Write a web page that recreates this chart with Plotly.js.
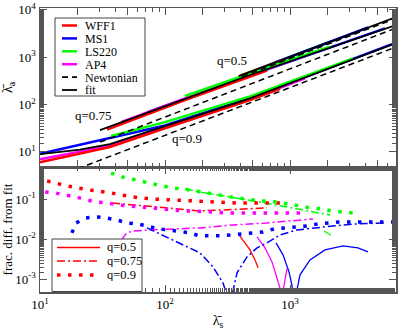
<!DOCTYPE html>
<html>
<head>
<meta charset="utf-8">
<script src="https://cdn.plot.ly/plotly-3.0.1.min.js"></script>
<style>body{margin:0;background:#fff}</style>
</head>
<body>
<div id="chart" style="width:398px;height:330px"></div>
<script>
// ---------- top panel: lambda_a vs lambda_s ----------
// fits
var fit05X = [390, 1000, 3000, 7050];
var fit05Y = [400, 1018, 3034, 7080];
var fit075X = [30.2, 153, 479, 7050];
var fit075Y = [28.9, 139, 421, 4797];
var fit09X = [10, 20.9, 36.3, 100, 479, 7050];
var fit09Y = [9.0, 11.2, 14.6, 35.1, 135, 1995];
// newtonian
var newt05X = [413, 7050];
var newt05Y = [388, 6630];
var newt075X = [30.2, 7050];
var newt075Y = [16.1, 4143];
var newt09X = [20, 7050];
var newt09Y = [4.4, 1642];
// EOS curves, q=0.5
var wff05X = [390, 555], wff05Y = [394, 560];
var ap405X = [545, 946], ap405Y = [550, 960];
var ms105X = [773, 4207], ms105Y = [790, 4240];
var ls05X = [400, 2128], ls05Y = [410, 2160];
// q=0.75
var wff075X = [34.4, 150, 655], wff075Y = [29.5, 129, 525];
var ap4075X = [45, 200, 1528], ap4075Y = [43, 184, 1240];
var ms1075X = [71.8, 328, 5754], ms1075Y = [68.4, 290, 4060];
var ls075X = [144.5, 631, 2089], ls075Y = [152, 584, 1670];
// q=0.9
var wff09X = [10, 36.3, 100, 479, 832], wff09Y = [6.0, 12.7, 31.6, 124, 215];
var ap409X = [10, 36.3, 100, 479, 1318], ap409Y = [7.0, 13.4, 33, 129, 358];
var ms109X = [10, 100, 479, 6546], ms109Y = [9.1, 36.2, 138, 1890];
var ls09X = [37, 100, 479, 3192], ls09Y = [21.6, 42.5, 149, 945];

// ---------- bottom panel: frac. diff. from fit ----------
// q=0.5 (solid)
var dWff05X = [391, 437, 479, 525, 555];
var dWff05Y = [0.0129, 0.00813, 0.00543, 0.00305, 0.00193];
var dAp405X = [545, 631, 718, 787, 832, 855, 879, 912, 946];
var dAp405Y = [0.0115, 0.0061, 0.00272, 0.00115, 0.0006, 0.0001, 0.0005, 0.00097, 0.00182];
var dMs105X = [773, 879, 982, 1037, 1086, 1138, 1202, 1445, 1905, 2655, 3499, 4207];
var dMs105Y = [0.00813, 0.00407, 0.00153, 0.0007, 0.0001, 0.00054, 0.00129, 0.00305, 0.00543, 0.00684, 0.0061, 0.00484];
var dLs05X = [1871, 2000, 2128];
var dLs05Y = [0.0162, 0.0143, 0.0126];
// q=0.75 (dash-dot)
var dWff075X = [37.7, 100, 190.5, 655];
var dWff075Y = [0.0813, 0.061, 0.0513, 0.061];
var dAp4075X = [45, 49.4, 55.5, 75.9, 190.5, 350, 655, 1202, 1528];
var dAp4075Y = [0.00966, 0.0145, 0.0162, 0.0172, 0.0193, 0.0229, 0.0257, 0.0305, 0.0324];
var dMs1075X = [71.8, 120, 190.5, 242, 291, 313, 328, 344, 377, 453, 545, 655, 832, 1138, 1528, 2208, 3436, 5754];
var dMs1075Y = [0.0193, 0.0092, 0.00457, 0.00204, 0.00081, 0.0004, 0.0001, 0.0004, 0.00145, 0.00363, 0.0061, 0.00813, 0.0129, 0.0172, 0.0193, 0.0216, 0.0243, 0.0257];
var dLs075X = [144.5, 190.5, 631, 2089];
var dLs075Y = [0.182, 0.153, 0.0813, 0.0407];
// q=0.9 (dotted)
var dWff09X = [11.4, 16.7, 24.7, 37, 54.5, 80.2, 116, 174, 251, 377, 545, 832];
var dWff09Y = [0.288, 0.216, 0.172, 0.145, 0.115, 0.102, 0.0966, 0.0912, 0.0861, 0.0813, 0.0813, 0.0813];
var dAp409X = [11, 13.2, 15.8, 19.4, 23.8, 28.6, 34.4, 42.1, 51.5, 63.1, 75.9, 94.6, 113.8, 139.3, 167.5, 208.9, 313, 461, 692, 1318];
var dAp409Y = [0.153, 0.145, 0.129, 0.115, 0.0966, 0.0861, 0.0813, 0.0724, 0.0684, 0.0646, 0.061, 0.0575, 0.0543, 0.0513, 0.0513, 0.0484, 0.0457, 0.0457, 0.0457, 0.0457];
var dMs109X = [18, 19.4, 23.3, 28.6, 33.7, 41.3, 49.7, 59.7, 71.8, 87.9, 105.7, 129.4, 158.5, 187, 225, 281, 344, 413, 506, 608, 745, 912, 1117, 1368, 1675, 2014, 2466, 3631, 6546];
var dMs109Y = [0.0145, 0.0257, 0.0343, 0.0363, 0.0343, 0.0305, 0.0257, 0.0243, 0.0216, 0.0182, 0.0172, 0.0162, 0.0145, 0.0122, 0.0122, 0.0122, 0.0129, 0.0136, 0.0145, 0.0153, 0.0182, 0.0193, 0.0204, 0.0216, 0.0243, 0.0257, 0.0272, 0.0272, 0.0272];
var dLs09X = [37, 45.3, 54.5, 66.7, 80.2, 96.4, 115.9, 141.9, 173.8, 205, 251, 308, 377, 461, 565, 692, 832, 1000, 1202, 1445, 1803, 2168, 2606, 3192];
var dLs09Y = [0.457, 0.363, 0.324, 0.272, 0.243, 0.216, 0.193, 0.182, 0.162, 0.153, 0.136, 0.122, 0.108, 0.102, 0.0912, 0.0912, 0.0813, 0.0767, 0.0684, 0.061, 0.0575, 0.0513, 0.0484, 0.0457];

var RED = '#ff0000', BLUE = '#0000ff', GREEN = '#00ff00', MAG = '#ff00ff';
var DASHDOT = '8px,3px,2px,3px';
var DOTS = '3.5px,7.5px';
var SERIF = "'Liberation Serif', 'Times New Roman', Times, serif";

function tr(x, y, color, width, dash, top) {
  return {
    x: x, y: y, type: 'scatter', mode: 'lines', showlegend: false, hoverinfo: 'skip',
    line: {color: color, width: width, dash: dash || 'solid'},
    xaxis: top ? 'x2' : 'x', yaxis: top ? 'y' : 'y2'
  };
}

var data = [
  // top: EOS curves
  tr(ls05X, ls05Y, GREEN, 2.5, null, true),
  tr(ms105X, ms105Y, BLUE, 2.5, null, true),
  tr(ap405X, ap405Y, MAG, 2.5, null, true),
  tr(wff05X, wff05Y, RED, 2.5, null, true),
  tr(ms1075X, ms1075Y, BLUE, 2.5, null, true),
  tr(ap4075X, ap4075Y, MAG, 2.5, null, true),
  tr(wff075X, wff075Y, RED, 2.5, null, true),
  tr(ls075X, ls075Y, GREEN, 2.5, null, true),
  tr(ms109X, ms109Y, BLUE, 2.5, null, true),
  tr(ap409X, ap409Y, MAG, 2.5, null, true),
  tr(wff09X, wff09Y, RED, 2.5, null, true),
  tr(ls09X, ls09Y, GREEN, 2.5, null, true),
  // top: newtonian + fits
  tr(newt05X, newt05Y, '#000', 1.5, '6px,4px', true),
  tr(newt075X, newt075Y, '#000', 1.5, '6px,4px', true),
  tr(newt09X, newt09Y, '#000', 1.5, '6px,4px', true),
  tr(fit05X, fit05Y, '#000', 1.8, null, true),
  tr(fit075X, fit075Y, '#000', 1.8, null, true),
  tr(fit09X, fit09Y, '#000', 1.8, null, true),
  // bottom: q=0.5
  tr(dWff05X, dWff05Y, RED, 1.3),
  tr(dAp405X, dAp405Y, MAG, 1.3),
  tr(dMs105X, dMs105Y, BLUE, 1.3),
  tr(dLs05X, dLs05Y, GREEN, 1.3),
  // bottom: q=0.75
  tr(dWff075X, dWff075Y, RED, 1.5, DASHDOT),
  tr(dAp4075X, dAp4075Y, MAG, 1.5, DASHDOT),
  tr(dMs1075X, dMs1075Y, BLUE, 1.5, DASHDOT),
  tr(dLs075X, dLs075Y, GREEN, 1.5, DASHDOT),
  // bottom: q=0.9
  tr(dWff09X, dWff09Y, RED, 3.5, DOTS),
  tr(dAp409X, dAp409Y, MAG, 3.5, DOTS),
  tr(dMs109X, dMs109Y, BLUE, 3.5, DOTS),
  tr(dLs09X, dLs09Y, GREEN, 3.5, DOTS)
];

// legends (drawn by hand so that row spacing matches)
var topLegNames = ['WFF1', 'MS1', 'LS220', 'AP4', 'Newtonian', 'fit'];
var topLegColors = [RED, BLUE, GREEN, MAG, '#000', '#000'];
var topLegDash = ['solid', 'solid', 'solid', 'solid', '6px,4px', 'solid'];
var topLegWidth = [2.5, 2.5, 2.5, 2.5, 1.8, 1.8];
var botLegNames = ['q=0.5', 'q=0.75', 'q=0.9'];
var botLegDash = ['solid', DASHDOT, DOTS];
var botLegWidth = [1.3, 1.5, 3.5];

// pixel -> paper helpers (plot area 40..396 x 8..292)
function px(v) { return (v - 40) / 356; }
function py(v) { return (292 - v) / 284; }

var shapes = [], annotations = [];
shapes.push({type: 'rect', xref: 'paper', yref: 'paper', x0: px(55), x1: px(145), y0: py(18), y1: py(96),
  line: {color: '#444', width: 1}, fillcolor: 'white', layer: 'above'});
topLegNames.forEach(function (n, i) {
  var yy = 25.5 + i * 12.9;
  shapes.push({type: 'line', xref: 'paper', yref: 'paper', x0: px(62), x1: px(77), y0: py(yy), y1: py(yy),
    line: {color: topLegColors[i], width: topLegWidth[i], dash: topLegDash[i]}, layer: 'above'});
  annotations.push({xref: 'paper', yref: 'paper', x: px(84), y: py(yy), text: n, showarrow: false,
    xanchor: 'left', yanchor: 'middle', height: 11, borderpad: 0, font: {size: 12}});
});
shapes.push({type: 'rect', xref: 'paper', yref: 'paper', x0: px(52), x1: px(142), y0: py(239), y1: py(291.5),
  line: {color: '#444', width: 1}, fillcolor: 'white', layer: 'above'});
botLegNames.forEach(function (n, i) {
  var yy = [247.5, 261, 275][i];
  shapes.push({type: 'line', xref: 'paper', yref: 'paper', x0: px(57), x1: px(100), y0: py(yy), y1: py(yy),
    line: {color: RED, width: botLegWidth[i], dash: botLegDash[i]}, layer: 'above'});
  annotations.push({xref: 'paper', yref: 'paper', x: px(106), y: py(yy), text: n, showarrow: false,
    xanchor: 'left', yanchor: 'middle', height: 12, borderpad: 0, font: {size: 12.5}});
});

// q labels in the top panel (log10 positions)
annotations.push({xref: 'x2', yref: 'y', x: 2.536, y: 2.94, text: 'q=0.5', showarrow: false, font: {size: 13}});
annotations.push({xref: 'x2', yref: 'y', x: 1.424, y: 1.778, text: 'q=0.75', showarrow: false, font: {size: 13}});
annotations.push({xref: 'x2', yref: 'y', x: 2.176, y: 1.292, text: 'q=0.9', showarrow: false, font: {size: 13}});

function sup(v) { return '10<sup>' + v + '</sup>'; }

var ax = {
  type: 'log', showline: true, linecolor: '#555', linewidth: 1.5, mirror: 'allticks',
  ticks: 'inside', ticklen: 7, tickwidth: 1, tickcolor: '#555',
  minor: {ticks: 'inside', ticklen: 4, tickwidth: 1, tickcolor: '#555', showgrid: false},
  showgrid: false, zeroline: false, tickfont: {size: 13, family: SERIF}
};
function mk(extra) { return Object.assign({}, ax, extra); }

var layout = {
  width: 398, height: 330,
  margin: {l: 40, r: 2, t: 8, b: 38},
  paper_bgcolor: 'white', plot_bgcolor: 'white',
  font: {family: SERIF, size: 13, color: '#000'},
  showlegend: false,
  xaxis: mk({range: [1, 3.848], anchor: 'y2', tickvals: [10, 100, 1000], ticktext: [sup(1), sup(2), sup(3)],
    title: {text: 'λ̄<sub>s</sub>', font: {size: 14, family: SERIF}, standoff: 4}}),
  xaxis2: mk({range: [1, 3.848], anchor: 'y', matches: 'x', showticklabels: false}),
  yaxis: mk({range: [0.68, 4.04], domain: [0.44, 1], anchor: 'x2',
    tickvals: [10, 100, 1000, 10000], ticktext: [sup(1), sup(2), sup(3), sup(4)],
    title: {text: 'λ̄<sub>a</sub>', font: {size: 14, family: SERIF}, standoff: 2}}),
  yaxis2: mk({range: [-3.32, -0.19], domain: [0, 0.44], anchor: 'x',
    tickvals: [0.001, 0.01, 0.1], ticktext: [sup('-3'), sup('-2'), sup('-1')],
    title: {text: 'frac. diff. from fit', font: {size: 13, family: SERIF}, standoff: 2}}),
  shapes: shapes,
  annotations: annotations
};

Plotly.newPlot('chart', data, layout, {staticPlot: true});
</script>
</body>
</html>
